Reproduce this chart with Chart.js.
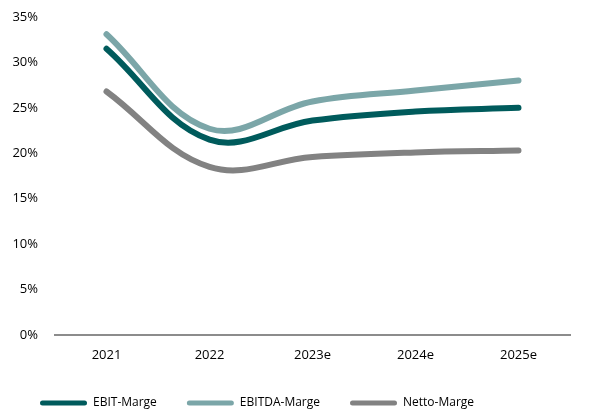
<!DOCTYPE html>
<html>
<head>
<meta charset="utf-8">
<script src="https://cdn.jsdelivr.net/npm/chart.js@4"></script>
<style>
  html, body { margin: 0; padding: 0; background: #fff; }
  #wrap { width: 592px; height: 417px; }
</style>
</head>
<body>
<div id="wrap"><canvas id="chart"></canvas></div>
<script>
// years and margins (%)
var years = ['2021', '2022', '2023e', '2024e', '2025e'];
var ebitMarge = [31.5, 21.5, 23.6, 24.6, 25.0];
var ebitdaMarge = [33.1, 22.7, 25.7, 26.9, 28.0];
var nettoMarge = [26.8, 18.5, 19.6, 20.1, 20.3];
var yTicks = [0, 5, 10, 15, 20, 25, 30, 35];

var font = "'Open Sans', 'Liberation Sans', sans-serif";

function makeSet(label, data, color) {
    return {
        label: label,
        data: data,
        borderColor: color,
        backgroundColor: color,
        borderWidth: 6,
        borderCapStyle: 'round',
        tension: 0.38,
        pointRadius: 0,
        fill: false
    };
}

// keep the legend low and compact like the original
var legendHeight = {
    id: 'legendHeight',
    beforeInit: function(chart) {
        var legend = chart.legend;
        var fit = legend.fit;
        legend.fit = function() {
            fit.call(this);
            this.height = 50;
        };
    }
};

var ctx = document.getElementById('chart');

var chart = new Chart(ctx, {
    type: 'line',
    data: {
        labels: years,
        datasets: [
            makeSet('EBIT-Marge', ebitMarge, '#005b5c'),
            makeSet('EBITDA-Marge', ebitdaMarge, '#7ba6a8'),
            makeSet('Netto-Marge', nettoMarge, '#828282')
        ]
    },
    plugins: [legendHeight],
    options: {
        responsive: true,
        maintainAspectRatio: false,
        animation: false,
        layout: { padding: { left: 10, right: 22, top: 17, bottom: 0 } },
        plugins: {
            tooltip: { enabled: false },
            legend: {
                position: 'bottom',
                align: 'start',
                labels: {
                    boxWidth: 47,
                    boxHeight: 5,
                    padding: 30,
                    color: '#000',
                    font: { family: font, size: 12 },
                    generateLabels: function(chart) {
                        return chart.data.datasets.map(function(ds, i) {
                            return {
                                text: ds.label,
                                fillStyle: ds.borderColor,
                                strokeStyle: ds.borderColor,
                                lineWidth: 0,
                                borderRadius: 2.5,
                                datasetIndex: i
                            };
                        });
                    }
                }
            }
        },
        scales: {
            x: {
                offset: true,
                afterFit: function(axis) {
                    axis.height = 32;
                },
                grid: { display: false, drawTicks: false },
                border: { display: true, color: '#8c8c8c', width: 2 },
                ticks: { color: '#000', padding: 12, font: { family: font, size: 13 } }
            },
            y: {
                min: 0,
                max: 35,
                afterBuildTicks: function(axis) {
                    axis.ticks = yTicks.map(function(v) { return { value: v }; });
                },
                afterFit: function(axis) {
                    axis.width = 45;
                    axis.paddingTop = 0;
                    axis.paddingBottom = 0;
                },
                grid: { display: false, drawTicks: false },
                border: { display: false },
                ticks: {
                    color: '#000',
                    padding: 17,
                    font: { family: font, size: 13 },
                    callback: function(v) { return v + '%'; }
                }
            }
        }
    }
});
</script>
</body>
</html>
